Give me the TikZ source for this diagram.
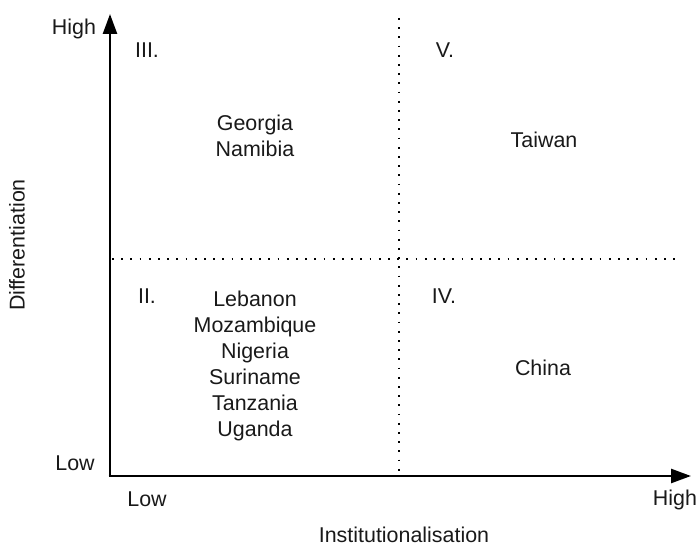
\documentclass[tikz,border=0pt]{standalone}
\usepackage{fontspec}
\setmainfont{Liberation Sans}
\usepackage{tikz}
\usetikzlibrary{arrows.meta,positioning}

\begin{document}
\begin{tikzpicture}[
    x=1bp, y=-1bp,
    lbl/.style={font=\fontsize{21.5}{26}\selectfont, inner sep=0pt, align=center, text=black!90},
    axis/.style={line width=2.6bp, -{Triangle[length=20bp,width=14bp]}},
    grid/.style={line width=2.2bp, dash pattern=on 1.8bp off 7.4bp},
]
\useasboundingbox (0,0) rectangle (698,546);
% axes
\coordinate (origin) at (110,476);
\coordinate (ytop) at (110,14);
\coordinate (xend) at (691,476);
\draw[axis] (origin) -- (ytop);
\draw[axis] ([xshift=-1.3bp]origin) -- (xend);
% quadrant borders
\coordinate (vtop) at (399,18);
\coordinate (vbot) at (399,474);
\coordinate (hleft) at (112,259);
\coordinate (hright) at (682,259);
\draw[grid] (vtop) -- (vbot);
\draw[grid] (hleft) -- (hright);
% axis labels
\node[lbl] (yhigh) at (74,29) {High};
\node[lbl] (ylow) at (75,463) {Low};
\node[lbl] (xlow) at (147,499) {Low};
\node[lbl] (xhigh) at (675,500) {High};
\node[lbl] (xname) at (404,535) {Institutionalisation};
\node[lbl, rotate=90] (yname) at (17,245) {Differentiation};
% quadrants
\node[lbl] (qIII) at (147,50) {III.};
\node[lbl] (qV) at (445,50) {V.};
\node[lbl] (qII) at (147,296) {II.};
\node[lbl] (qIV) at (444,296) {IV.};
\node[lbl] (cIII) at (255,136) {Georgia\\Namibia};
\node[lbl] (cV) at (544,140) {Taiwan};
\node[lbl] (cII) at (255,366) {Lebanon\\Mozambique\\Nigeria\\Suriname\\Tanzania\\Uganda};
\node[lbl] (cIV) at (543,368) {China};
\end{tikzpicture}
\end{document}
